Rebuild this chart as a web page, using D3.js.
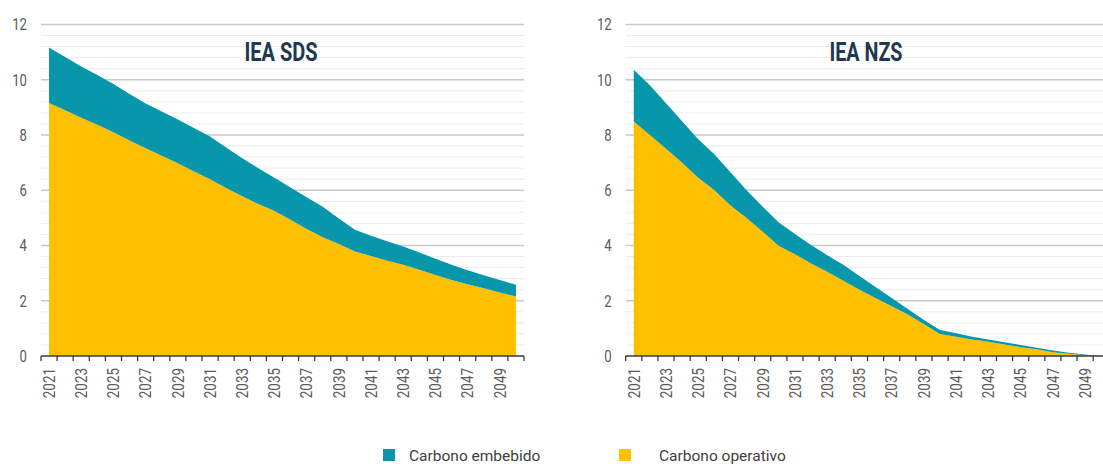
<!DOCTYPE html>
<html><head><meta charset="utf-8">
<script src="https://cdn.jsdelivr.net/npm/d3@7"></script>
<style>body{margin:0;background:#fff}svg{display:block}</style>
</head><body><svg id="c" width="1103" height="464"></svg>
<script>
const years = [2021,2022,2023,2024,2025,2026,2027,2028,2029,2030,2031,2032,2033,2034,2035,2036,2037,2038,2039,2040,2041,2042,2043,2044,2045,2046,2047,2048,2049,2050];
const sdsOperativo = [9.16,8.9,8.62,8.37,8.1,7.8,7.52,7.25,6.98,6.68,6.4,6.08,5.78,5.5,5.25,4.93,4.6,4.3,4.05,3.78,3.62,3.45,3.3,3.12,2.93,2.75,2.6,2.45,2.3,2.15];
const sdsEmbebido  = [2.01,1.92,1.86,1.8,1.75,1.68,1.62,1.6,1.58,1.57,1.55,1.47,1.38,1.3,1.2,1.17,1.15,1.1,0.93,0.79,0.73,0.7,0.66,0.63,0.59,0.55,0.5,0.47,0.45,0.43];
const nzsOperativo = [8.49,8.0,7.5,7.0,6.45,6.0,5.45,5.0,4.5,3.98,3.68,3.35,3.05,2.72,2.4,2.1,1.8,1.5,1.15,0.8,0.7,0.6,0.52,0.42,0.32,0.24,0.14,0.08,0.03,0.0];
const nzsEmbebido  = [1.87,1.8,1.65,1.5,1.4,1.3,1.2,1.0,0.9,0.85,0.74,0.67,0.6,0.58,0.5,0.4,0.3,0.2,0.15,0.14,0.12,0.1,0.08,0.08,0.08,0.06,0.06,0.04,0.02,0.0];
const yTicks = [0,2,4,6,8,10,12];
const xTickLabels = ["2021","2023","2025","2027","2029","2031","2033","2035","2037","2039","2041","2043","2045","2047","2049"];
const seriesNames = ["Carbono embebido","Carbono operativo"];
const titles = ["IEA SDS","IEA NZS"];
const colEmb = "#0896aa", colOp = "#ffc000";

const svg = d3.select("#c");
const y = d3.scaleLinear().domain([0,12]).range([356,24.5]);

function condense(sel, f){
  sel.each(function(){
    const w = this.getComputedTextLength();
    this.setAttribute("textLength", w*f);
    this.setAttribute("lengthAdjust","spacingAndGlyphs");
  });
}

function panel(x0, x1, title, titleX, op, emb){
  const g = svg.append("g");
  const x = d3.scaleBand().domain(years).range([x0, x1]).padding(0);
  const cx = d => x(d) + x.bandwidth()/2;
  const minor = d3.range(0, 12.001, 0.4).filter(v => Math.abs(v/2 - Math.round(v/2)) > 1e-6);
  g.selectAll(".mn").data(minor).join("line")
    .attr("x1", x0).attr("x2", x1).attr("y1", d=>y(d)).attr("y2", d=>y(d))
    .attr("stroke","#ececec").attr("stroke-width",1);
  g.selectAll(".mj").data(yTicks.filter(v=>v>0)).join("line")
    .attr("x1", x0).attr("x2", x1).attr("y1", d=>y(d)).attr("y2", d=>y(d))
    .attr("stroke","#c9c9c9").attr("stroke-width",1.3);
  const rows = years.map((yr,i)=>({year:yr, op:op[i], emb:emb[i]}));
  const stack = d3.stack().keys(["op","emb"])(rows);
  const area = d3.area().x(d=>cx(d.data.year)).y0(d=>y(d[0])).y1(d=>y(d[1]));
  g.selectAll(".ar").data(stack).join("path")
    .attr("d", area).attr("fill", d => d.key==="op" ? colOp : colEmb);
  const yl = g.selectAll(".yl").data(yTicks).join("text")
    .attr("x", x0-14).attr("y", d=>y(d)).attr("dy","0.36em")
    .attr("text-anchor","end").attr("font-family","Roboto, sans-serif")
    .attr("font-size",16).attr("fill","#5a5a5a").text(d=>d);
  condense(yl, 0.82);
  g.append("line").attr("x1",x0).attr("x2",x1).attr("y1",356).attr("y2",356)
    .attr("stroke","#3a3a3a").attr("stroke-width",1.5);
  const bounds = years.map(d=>x(d)).concat([x1]);
  g.selectAll(".tk").data(bounds).join("line")
    .attr("x1",d=>d).attr("x2",d=>d).attr("y1",356).attr("y2",361)
    .attr("stroke","#3a3a3a").attr("stroke-width",1.3);
  const xl = g.selectAll(".xl").data(xTickLabels).join("text")
    .attr("transform", d=>`translate(${cx(+d)+5.8},368) rotate(-90)`)
    .attr("text-anchor","end").attr("font-family","Roboto, sans-serif")
    .attr("font-size",16).attr("fill","#5a5a5a").text(d=>d);
  condense(xl, 0.84);
  g.append("text").attr("x", titleX).attr("y", 61).attr("text-anchor","middle")
    .attr("font-family","Roboto, sans-serif").attr("font-weight","bold")
    .attr("font-size",25).attr("fill","#22384f")
    .attr("textLength",73).attr("lengthAdjust","spacingAndGlyphs").text(title);
}

panel(41, 524, titles[0], 281, sdsOperativo, sdsEmbebido);
panel(625.7, 1109.3, titles[1], 866, nzsOperativo, nzsEmbebido);

const leg = [{name:seriesNames[0], c:colEmb, x:383, tx:409},{name:seriesNames[1], c:colOp, x:619, tx:659}];
const lg = svg.selectAll(".lg").data(leg).join("g");
lg.append("rect").attr("x",d=>d.x).attr("y",449).attr("width",12).attr("height",12).attr("fill",d=>d.c);
lg.append("text").attr("x",d=>d.tx).attr("y",461).attr("font-family","Roboto, sans-serif")
  .attr("font-size",15.5).attr("fill","#404040").text(d=>d.name);
</script>
</body></html>
